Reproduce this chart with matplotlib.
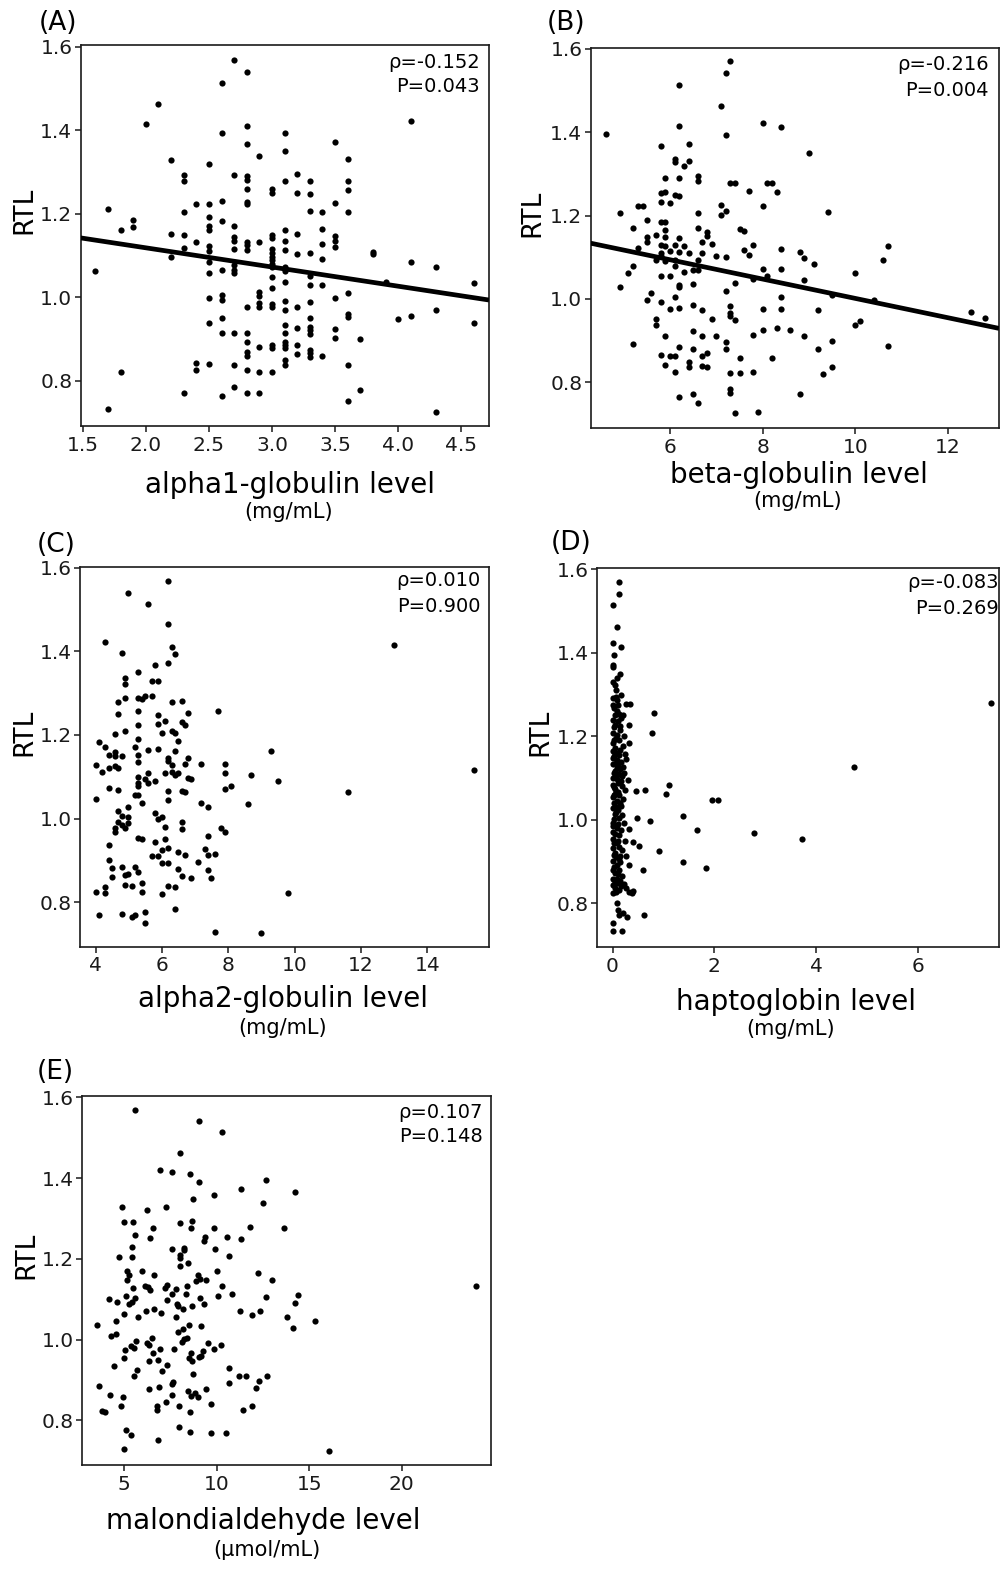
import numpy as np
import matplotlib
matplotlib.use("Agg")
import matplotlib.pyplot as plt

plt.rcParams['font.family'] = ['DejaVu Sans']

# ---- data ----
# (A) alpha1-globulin is recorded in 0.1 steps: one column of RTL values per level
alpha1_levels = [1.6, 1.7, 1.8, 1.9, 2.0, 2.1, 2.2, 2.3, 2.4, 2.5, 2.6, 2.7, 2.8, 2.9,
                 3.0, 3.1, 3.2, 3.3, 3.4, 3.5, 3.6, 3.7, 3.8, 3.9, 4.0, 4.1, 4.3, 4.6]
alpha1_rtl = [
    [1.063],
    [1.210, 0.731],
    [1.160, 0.821],
    [1.184, 1.168],
    [1.414],
    [1.463],
    [1.328, 1.152, 1.095],
    [1.292, 1.278, 1.204, 1.148, 1.117, 0.769],
    [1.224, 1.131, 0.843, 0.825],
    [1.320, 1.223, 1.191, 1.171, 1.160, 1.122, 1.111, 1.085, 1.057, 0.998, 0.937, 0.839],
    [1.513, 1.394, 1.230, 1.183, 1.065, 1.005, 0.993, 0.951, 0.913, 0.764],
    [1.569, 1.292, 1.170, 1.145, 1.135, 1.114, 1.077, 1.066, 1.057, 0.913, 0.836, 0.785],
    [1.540, 1.410, 1.366, 1.291, 1.280, 1.258, 1.228, 1.223, 1.133, 1.125, 1.113, 0.977,
     0.915, 0.893, 0.869, 0.859, 0.825, 0.771],
    [1.338, 1.131, 1.013, 1.002, 0.985, 0.975, 0.881, 0.820, 0.771],
    [1.258, 1.250, 1.148, 1.141, 1.115, 1.105, 1.097, 1.088, 1.080, 1.072, 1.047, 1.021,
     0.983, 0.975, 0.885, 0.879, 0.821],
    [1.394, 1.350, 1.278, 1.160, 1.135, 1.113, 1.071, 1.063, 1.037, 0.990, 0.969, 0.933,
     0.913, 0.893, 0.885, 0.877, 0.848, 0.837],
    [1.294, 1.250, 1.152, 1.103, 0.977, 0.925, 0.885, 0.863],
    [1.278, 1.247, 1.207, 1.106, 1.050, 1.029, 0.987, 0.949, 0.929, 0.921, 0.911, 0.873,
     0.865, 0.857],
    [1.204, 1.164, 1.127, 1.092, 1.029, 0.859],
    [1.372, 1.226, 1.146, 1.135, 1.119, 0.998, 0.923, 0.901],
    [1.330, 1.279, 1.256, 1.203, 1.009, 0.959, 0.953, 0.837, 0.751],
    [0.899, 0.777],
    [1.109, 1.103],
    [1.037],
    [0.947],
    [1.422, 1.084, 0.954],
    [1.071, 0.969, 0.725],
    [1.034, 0.939],
]

# (B) beta-globulin (mg/mL), RTL
beta_pts = [
    (4.61, 1.396), (4.91, 1.205), (4.91, 1.029), (5.10, 1.062), (5.21, 1.170), (5.21, 1.080),
    (5.21, 0.892), (5.30, 1.222), (5.41, 1.222), (5.30, 1.122), (5.50, 1.190), (5.50, 1.148),
    (5.50, 1.137), (5.50, 0.998), (5.60, 1.013), (5.70, 0.952), (5.70, 0.938), (5.70, 1.154),
    (5.70, 1.094), (5.80, 1.366), (5.80, 1.253), (5.80, 1.232), (5.80, 1.184), (5.80, 1.130),
    (5.80, 1.110), (5.80, 1.102), (5.80, 1.056), (5.80, 0.992), (5.80, 0.866), (5.90, 1.290),
    (5.90, 1.256), (5.90, 1.184), (5.90, 1.166), (5.90, 1.148), (5.90, 1.128), (5.90, 1.090),
    (5.90, 0.910), (5.90, 0.841), (6.00, 1.230), (6.00, 1.114), (6.00, 1.056), (6.00, 0.976),
    (6.00, 0.864), (6.10, 1.130), (6.10, 1.094), (6.10, 1.078), (6.10, 1.004), (6.10, 0.862),
    (6.10, 0.825), (6.10, 1.336), (6.10, 1.328), (6.10, 1.250), (6.20, 1.514), (6.20, 1.416),
    (6.20, 1.290), (6.20, 1.246), (6.20, 1.146), (6.20, 1.112), (6.20, 1.034), (6.20, 1.029),
    (6.20, 0.978), (6.20, 0.884), (6.20, 0.764), (6.30, 1.320), (6.40, 1.330), (6.30, 1.126),
    (6.30, 1.064), (6.40, 1.372), (6.40, 1.110), (6.40, 0.848), (6.40, 0.836), (6.50, 1.036),
    (6.50, 0.986), (6.50, 0.922), (6.50, 0.880), (6.50, 0.771), (6.50, 1.070), (6.60, 1.294),
    (6.60, 1.282), (6.60, 1.205), (6.60, 1.170), (6.60, 1.094), (6.60, 1.070), (6.60, 0.751),
    (6.70, 1.136), (6.70, 1.110), (6.70, 0.974), (6.70, 0.912), (6.70, 0.862), (6.70, 0.839),
    (6.80, 1.160), (6.80, 1.152), (6.80, 0.870), (6.80, 0.836), (6.90, 1.132), (6.90, 0.952),
    (7.00, 1.104), (7.00, 0.910), (7.10, 1.464), (7.10, 1.226), (7.10, 1.202), (7.20, 1.542),
    (7.20, 1.394), (7.20, 1.210), (7.20, 1.101), (7.20, 1.020), (7.20, 0.896), (7.20, 0.879),
    (7.30, 1.570), (7.30, 1.278), (7.40, 1.278), (7.30, 0.984), (7.30, 0.966), (7.30, 0.958),
    (7.30, 0.821), (7.30, 0.784), (7.30, 0.775), (7.40, 1.037), (7.40, 0.949), (7.40, 0.727),
    (7.50, 1.168), (7.60, 1.162), (7.50, 0.859), (7.50, 0.821), (7.60, 1.118), (7.70, 1.258),
    (7.70, 1.106), (7.80, 1.130), (7.80, 1.048), (7.80, 0.914), (7.80, 0.824), (7.90, 0.728),
    (8.00, 1.422), (8.00, 1.224), (8.00, 1.072), (8.00, 0.976), (8.00, 0.926), (8.10, 1.278),
    (8.20, 1.278), (8.10, 1.056), (8.20, 0.859), (8.30, 1.256), (8.30, 0.930), (8.40, 1.412),
    (8.40, 1.120), (8.40, 1.072), (8.40, 1.004), (8.40, 0.976), (8.60, 0.926), (8.80, 1.112),
    (8.80, 0.771), (8.90, 1.098), (8.90, 1.046), (8.90, 0.910), (9.00, 1.350), (9.10, 1.084),
    (9.20, 0.974), (9.20, 0.879), (9.30, 0.820), (9.40, 1.208), (9.50, 1.010), (9.50, 0.898),
    (9.50, 0.836), (10.0, 1.062), (10.0, 0.938), (10.1, 0.946), (10.4, 0.998), (10.6, 1.094),
    (10.7, 1.126), (10.7, 0.886), (12.5, 0.968), (12.8, 0.954),
]

# (C) alpha2-globulin (mg/mL), RTL
alpha2_pts = [
    (4.00, 1.127), (4.00, 1.047), (4.00, 0.825), (4.09, 1.184), (4.09, 0.769), (4.19, 1.111),
    (4.29, 1.170), (4.29, 1.422), (4.29, 0.836), (4.29, 0.822), (4.39, 1.152), (4.39, 1.121),
    (4.39, 1.073), (4.39, 0.937), (4.39, 0.900), (4.49, 0.881), (4.49, 0.860), (4.59, 1.202),
    (4.59, 1.159), (4.59, 1.149), (4.59, 1.125), (4.59, 0.977), (4.59, 0.968), (4.69, 1.278),
    (4.69, 1.249), (4.69, 1.120), (4.69, 1.069), (4.69, 1.019), (4.69, 0.993), (4.79, 1.395),
    (4.79, 1.149), (4.79, 1.007), (4.79, 0.985), (4.79, 0.885), (4.79, 0.771), (4.89, 1.337),
    (4.89, 1.321), (4.89, 1.289), (4.89, 1.209), (4.89, 0.977), (4.89, 0.866), (4.89, 0.842),
    (4.99, 1.540), (4.99, 1.029), (4.99, 1.005), (4.99, 0.989), (4.99, 0.867), (5.09, 0.839),
    (5.09, 0.766), (5.19, 1.170), (5.19, 1.057), (5.19, 0.885), (5.19, 0.770), (5.29, 1.350),
    (5.29, 1.289), (5.29, 1.257), (5.29, 1.223), (5.29, 1.190), (5.29, 1.153), (5.29, 1.135),
    (5.29, 1.099), (5.29, 1.085), (5.29, 1.077), (5.29, 1.057), (5.29, 0.953), (5.39, 0.951),
    (5.29, 0.872), (5.39, 1.285), (5.39, 1.037), (5.39, 0.847), (5.39, 0.824), (5.49, 1.293),
    (5.49, 1.095), (5.49, 0.777), (5.49, 0.751), (5.59, 1.514), (5.59, 1.165), (5.59, 1.110),
    (5.59, 1.085), (5.69, 1.328), (5.69, 1.294), (5.69, 0.911), (5.79, 1.366), (5.79, 1.089),
    (5.79, 1.013), (5.79, 0.945), (5.89, 1.328), (5.89, 1.247), (5.89, 1.225), (5.89, 1.167),
    (5.89, 0.999), (5.89, 0.911), (5.99, 1.205), (5.99, 1.005), (5.99, 0.925), (5.99, 0.893),
    (5.99, 0.820), (6.09, 1.233), (6.09, 1.110), (6.09, 0.980), (6.09, 0.952), (6.19, 1.569),
    (6.19, 1.464), (6.19, 1.372), (6.19, 1.145), (6.19, 1.137), (6.19, 1.067), (6.19, 1.045),
    (6.19, 0.929), (6.19, 0.893), (6.19, 0.839), (6.29, 1.410), (6.29, 1.278), (6.29, 1.209),
    (6.29, 1.129), (6.29, 1.111), (6.39, 1.393), (6.39, 1.205), (6.39, 1.161), (6.39, 1.105),
    (6.39, 0.837), (6.39, 0.784), (6.49, 1.185), (6.49, 1.109), (6.49, 0.921), (6.49, 0.879),
    (6.59, 1.281), (6.59, 1.230), (6.59, 1.065), (6.59, 0.991), (6.59, 0.975), (6.59, 0.863),
    (6.69, 1.223), (6.69, 1.130), (6.69, 1.063), (6.69, 0.912), (6.79, 1.252), (6.79, 1.146),
    (6.79, 1.098), (6.89, 1.095), (6.89, 0.859), (7.09, 0.897), (7.19, 1.130), (7.19, 1.037),
    (7.29, 0.927), (7.39, 1.029), (7.39, 0.959), (7.39, 0.912), (7.39, 0.877), (7.49, 0.857),
    (7.59, 0.915), (7.59, 0.730), (7.69, 1.258), (7.79, 0.977), (7.89, 0.969), (7.89, 1.130),
    (7.89, 1.110), (7.89, 1.071), (8.09, 1.079), (8.59, 1.035), (8.69, 1.104), (8.99, 0.726),
    (9.29, 1.161), (9.49, 1.091), (9.79, 0.822), (11.61, 1.063), (13.00, 1.415), (15.40, 1.117),
]

# (D) haptoglobin (mg/mL), RTL
hapto_pts = [
    (7.44, 1.280), (4.75, 1.126), (3.72, 0.954), (2.79, 0.968), (2.08, 1.046), (1.95, 1.046),
    (1.84, 0.885), (1.66, 0.974), (1.38, 1.009), (1.38, 0.899), (1.11, 1.083), (1.05, 1.062),
    (0.91, 0.926), (0.82, 1.256), (0.78, 1.208), (0.73, 0.997), (0.64, 1.072), (0.60, 0.879),
    (0.62, 0.771), (0.52, 0.938),
    (0.12, 1.569), (0.13, 1.540), (0.01, 1.514), (0.08, 1.463), (0.01, 1.424), (0.17, 1.414),
    (0.02, 1.394), (0.00, 1.370), (0.01, 1.366), (0.14, 1.350), (0.09, 1.339), (0.00, 1.331),
    (0.04, 1.323), (0.06, 1.294), (0.01, 1.291), (0.09, 1.286), (0.26, 1.278), (0.35, 1.278),
    (0.00, 1.276), (0.03, 1.268), (0.13, 1.254), (0.20, 1.251), (0.00, 1.240), (0.04, 1.228),
    (0.33, 1.228), (0.14, 1.224), (0.00, 1.208), (0.08, 1.204), (0.33, 1.184), (0.00, 1.184),
    (0.04, 1.172), (0.00, 1.164), (0.07, 1.160), (0.13, 1.156), (0.01, 1.148), (0.09, 1.142),
    (0.17, 1.139), (0.00, 1.133), (0.10, 1.129), (0.20, 1.127), (0.04, 1.117), (0.13, 1.109),
    (0.00, 1.101), (0.08, 1.097), (0.17, 1.093), (0.30, 1.094), (0.47, 1.069), (0.00, 1.083),
    (0.04, 1.073), (0.10, 1.067), (0.00, 1.054), (0.08, 1.045), (0.16, 1.033), (0.00, 1.029),
    (0.04, 1.013), (0.12, 1.003), (0.00, 0.993), (0.08, 0.981), (0.00, 0.971), (0.13, 0.963),
    (0.48, 1.005), (0.23, 0.993), (0.33, 0.977), (0.41, 0.947), (0.01, 0.953), (0.09, 0.943),
    (0.00, 0.931), (0.05, 0.921), (0.14, 0.913), (0.26, 0.913), (0.00, 0.901), (0.08, 0.891),
    (0.33, 0.891), (0.00, 0.879), (0.10, 0.869), (0.01, 0.857), (0.09, 0.847), (0.00, 0.843),
    (0.17, 0.841), (0.26, 0.837), (0.33, 0.827), (0.38, 0.823), (0.41, 0.829), (0.00, 0.823),
    (0.10, 0.783), (0.20, 0.777), (0.28, 0.767), (0.13, 0.772), (0.00, 0.752), (0.01, 0.732),
    (0.18, 0.732),
    (0.05, 1.250), (0.11, 1.236), (0.02, 1.222), (0.15, 1.215), (0.06, 1.196), (0.12, 1.190),
    (0.21, 1.176), (0.03, 1.152), (0.15, 1.166), (0.24, 1.158), (0.06, 1.137), (0.14, 1.121),
    (0.22, 1.113), (0.02, 1.112), (0.07, 1.105), (0.19, 1.104), (0.11, 1.088), (0.03, 1.078),
    (0.19, 1.080), (0.13, 1.058), (0.05, 1.062), (0.21, 1.050), (0.02, 1.040), (0.11, 1.022),
    (0.07, 1.018), (0.19, 1.010), (0.03, 1.002), (0.10, 0.990), (0.16, 0.975), (0.05, 0.965),
    (0.02, 0.945), (0.12, 0.935), (0.18, 0.928), (0.06, 0.910), (0.15, 0.898), (0.03, 0.887),
    (0.12, 0.880), (0.05, 0.872), (0.19, 0.866), (0.08, 0.858), (0.14, 0.852), (0.04, 0.836),
    (0.12, 0.832), (0.22, 0.845), (0.07, 0.826), (0.16, 1.300), (0.06, 1.310), (0.11, 1.275),
    (0.09, 1.260), (0.17, 1.244), (0.23, 1.200), (0.26, 1.145), (0.24, 1.070), (0.15, 1.040),
    (0.25, 0.950), (0.03, 1.190), (0.08, 1.125), (0.02, 1.060), (0.09, 1.030), (0.01, 0.985),
    (0.10, 0.950), (0.02, 0.915), (0.13, 0.905), (0.05, 0.851), (0.09, 0.800),
]

# (E) malondialdehyde (umol/mL), RTL
mda_pts = [
    (5.58, 1.569), (9.06, 1.540), (10.26, 1.513), (8.03, 1.462), (6.95, 1.421), (7.58, 1.414),
    (8.57, 1.410), (9.06, 1.391), (12.64, 1.394), (11.33, 1.373), (14.21, 1.365), (9.85, 1.358),
    (8.70, 1.348), (4.86, 1.329), (7.24, 1.328), (12.50, 1.337), (6.21, 1.320), (4.98, 1.290),
    (5.45, 1.291), (8.03, 1.288), (8.64, 1.293), (6.57, 1.277), (5.59, 1.259), (8.61, 1.277),
    (9.85, 1.277), (11.78, 1.280), (13.65, 1.277), (6.39, 1.252), (9.36, 1.255), (9.31, 1.245),
    (10.55, 1.255), (11.33, 1.249), (5.40, 1.229), (7.60, 1.224), (8.23, 1.228), (8.25, 1.222),
    (9.90, 1.224), (4.73, 1.204), (5.40, 1.204), (8.03, 1.210), (8.03, 1.202), (10.68, 1.207),
    (5.94, 1.171), (5.13, 1.169), (5.27, 1.160), (6.63, 1.161), (8.44, 1.190), (8.03, 1.182),
    (10.03, 1.170), (12.21, 1.165), (9.00, 1.160), (9.11, 1.151), (9.40, 1.148), (8.88, 1.146),
    (13.00, 1.147), (5.13, 1.147), (5.49, 1.127), (6.12, 1.132), (6.30, 1.130), (6.41, 1.122),
    (7.29, 1.134), (7.20, 1.128), (7.78, 1.125), (8.41, 1.133), (10.26, 1.133), (24.02, 1.132),
    (4.15, 1.101), (5.11, 1.109), (5.59, 1.102), (5.41, 1.094), (5.27, 1.089), (4.62, 1.094),
    (7.58, 1.112), (8.34, 1.112), (9.09, 1.104), (10.08, 1.109), (10.82, 1.113), (12.64, 1.106),
    (14.41, 1.111), (14.21, 1.090), (7.29, 1.097), (6.59, 1.076), (6.15, 1.070), (5.76, 1.056),
    (7.00, 1.067), (4.96, 1.064), (7.83, 1.088), (7.92, 1.084), (7.78, 1.056), (8.16, 1.075),
    (8.68, 1.084), (9.31, 1.087), (11.24, 1.071), (11.92, 1.062), (12.36, 1.072), (13.80, 1.056),
    (14.12, 1.029), (15.29, 1.046), (3.54, 1.036), (4.55, 1.045), (4.57, 1.013), (4.28, 1.010),
    (7.88, 1.018), (8.48, 1.035), (8.19, 1.026), (9.16, 1.034), (8.25, 1.001), (8.41, 1.004),
    (8.10, 0.995), (5.65, 0.996), (5.34, 0.985), (5.50, 0.979), (5.04, 0.975), (4.98, 0.954),
    (6.48, 1.003), (6.21, 0.992), (6.35, 0.987), (9.54, 0.991), (10.21, 0.986), (4.44, 0.936),
    (5.67, 0.925), (5.50, 0.911), (6.32, 0.948), (6.53, 0.967), (6.82, 0.950), (6.93, 0.976),
    (7.67, 0.976), (7.02, 0.923), (7.29, 0.938), (7.65, 0.894), (7.58, 0.890), (8.61, 0.967),
    (8.68, 0.948), (8.50, 0.954), (8.73, 0.915), (9.04, 0.958), (9.15, 0.960), (9.25, 0.973),
    (9.83, 0.976), (10.64, 0.930), (10.64, 0.892), (11.18, 0.911), (11.56, 0.911), (12.70, 0.911),
    (12.27, 0.897), (12.10, 0.880), (3.63, 0.885), (4.22, 0.864), (4.91, 0.859), (6.35, 0.877),
    (6.86, 0.883), (7.60, 0.864), (8.43, 0.872), (8.59, 0.861), (8.80, 0.867), (8.97, 0.859),
    (9.43, 0.877), (4.80, 0.836), (6.75, 0.837), (6.75, 0.826), (7.27, 0.846), (7.96, 0.837),
    (9.70, 0.841), (8.57, 0.821), (3.81, 0.823), (3.97, 0.820), (11.40, 0.825), (11.90, 0.836),
    (5.07, 0.777), (5.34, 0.764), (7.94, 0.784), (8.55, 0.771), (9.67, 0.770), (10.48, 0.769),
    (4.98, 0.730), (6.84, 0.751), (16.07, 0.725),
]

# regression lines drawn in (A) and (B): intercept, slope
fit_a = (1.210, -0.046)
fit_b = (1.233, -0.0232)

W, H = 1003, 1580
fig = plt.figure(figsize=(W / 100, H / 100), dpi=100)


def box(l, t, r, b):
    return [l / W, 1 - b / H, (r - l) / W, (b - t) / H]


def ftext(x, y, s, **kw):
    fig.text(x / W, 1 - y / H, s, **kw)


def panel(rect, xs, ys, xlim, ylim, xticks, xfmt, fit=None):
    ax = fig.add_axes(rect)
    ax.scatter(xs, ys, s=20, color='black', linewidths=0, zorder=3)
    if fit is not None:
        lx = np.array(xlim)
        ax.plot(lx, fit[0] + fit[1] * lx, color='black', lw=3.4, zorder=4,
                solid_capstyle='butt')
    ax.set_xlim(*xlim)
    ax.set_ylim(*ylim)
    ax.set_xticks(xticks)
    ax.set_xticklabels([xfmt.format(t) for t in xticks])
    ax.set_yticks([0.8, 1.0, 1.2, 1.4, 1.6])
    ax.set_yticklabels(['0.8', '1.0', '1.2', '1.4', '1.6'])
    ax.tick_params(direction='out', length=4, width=1.1, labelsize=14.5,
                   colors='#1a1a1a')
    ax.tick_params(axis='x', pad=3)
    ax.tick_params(axis='y', pad=2)
    for sp in ax.spines.values():
        sp.set_linewidth(1.2)
        sp.set_color('#1a1a1a')
    return ax


a_x = [lv for lv, col in zip(alpha1_levels, alpha1_rtl) for _ in col]
a_y = [v for col in alpha1_rtl for v in col]
panel(box(80.7, 45, 489, 426), a_x, a_y, (1.484, 4.72), (0.691, 1.604),
      [1.5, 2.0, 2.5, 3.0, 3.5, 4.0, 4.5], '{:.1f}', fit_a)

bx, by = zip(*beta_pts)
panel(box(590.7, 48, 999, 428), bx, by, (4.288, 13.10), (0.690, 1.602),
      [6, 8, 10, 12], '{:d}', fit_b)

cx, cy = zip(*alpha2_pts)
panel(box(80, 566.7, 489, 946.7), cx, cy, (3.53, 15.86), (0.694, 1.602),
      [4, 6, 8, 10, 12, 14], '{:d}')

dx, dy = zip(*hapto_pts)
panel(box(597.3, 567.7, 999, 947.3), dx, dy, (-0.30, 7.60), (0.694, 1.604),
      [0, 2, 4, 6], '{:d}')

ex, ey = zip(*mda_pts)
panel(box(82.3, 1096, 490.7, 1465.3), ex, ey, (2.73, 24.81), (0.689, 1.603),
      [5, 10, 15, 20], '{:d}')

# panel letters
for x, y, s in [(39, 23, '(A)'), (547, 23, '(B)'), (37, 545, '(C)'),
                (551, 543, '(D)'), (37, 1072, '(E)')]:
    ftext(x, y, s, fontsize=19, va='center', ha='left')

# RTL labels
for x, y in [(24, 210), (532, 213), (24, 732), (540, 732), (26, 1255)]:
    ftext(x, y, 'RTL', fontsize=19, rotation=90, va='center', ha='center')

# x labels and units
xlabels = [
    (290, 485, 'alpha1-globulin level', 289, 512, '(mg/mL)'),
    (799, 475, 'beta-globulin level', 798, 501, '(mg/mL)'),
    (283, 999, 'alpha2-globulin level', 283, 1028, '(mg/mL)'),
    (796, 1002, 'haptoglobin level', 791, 1029, '(mg/mL)'),
    (263, 1521, 'malondialdehyde level', 267, 1550, '(μmol/mL)'),
]
for x1, y1, s1, x2, y2, s2 in xlabels:
    ftext(x1, y1, s1, fontsize=20, ha='center', va='center')
    ftext(x2, y2, s2, fontsize=15, ha='center', va='center')

# correlation annotations
stats = [
    (480, 62, 87, 'ρ=-0.152', 'P=0.043'),
    (989, 65, 90, 'ρ=-0.216', 'P=0.004'),
    (481, 581, 606, 'ρ=0.010', 'P=0.900'),
    (999, 583, 608, 'ρ=-0.083', 'P=0.269'),
    (483, 1112, 1137, 'ρ=0.107', 'P=0.148'),
]
for x, y1, y2, s1, s2 in stats:
    ftext(x, y1, s1, fontsize=14, ha='right', va='center')
    ftext(x, y2, s2, fontsize=14, ha='right', va='center')

fig.savefig('out.png', dpi=100, facecolor='white')
